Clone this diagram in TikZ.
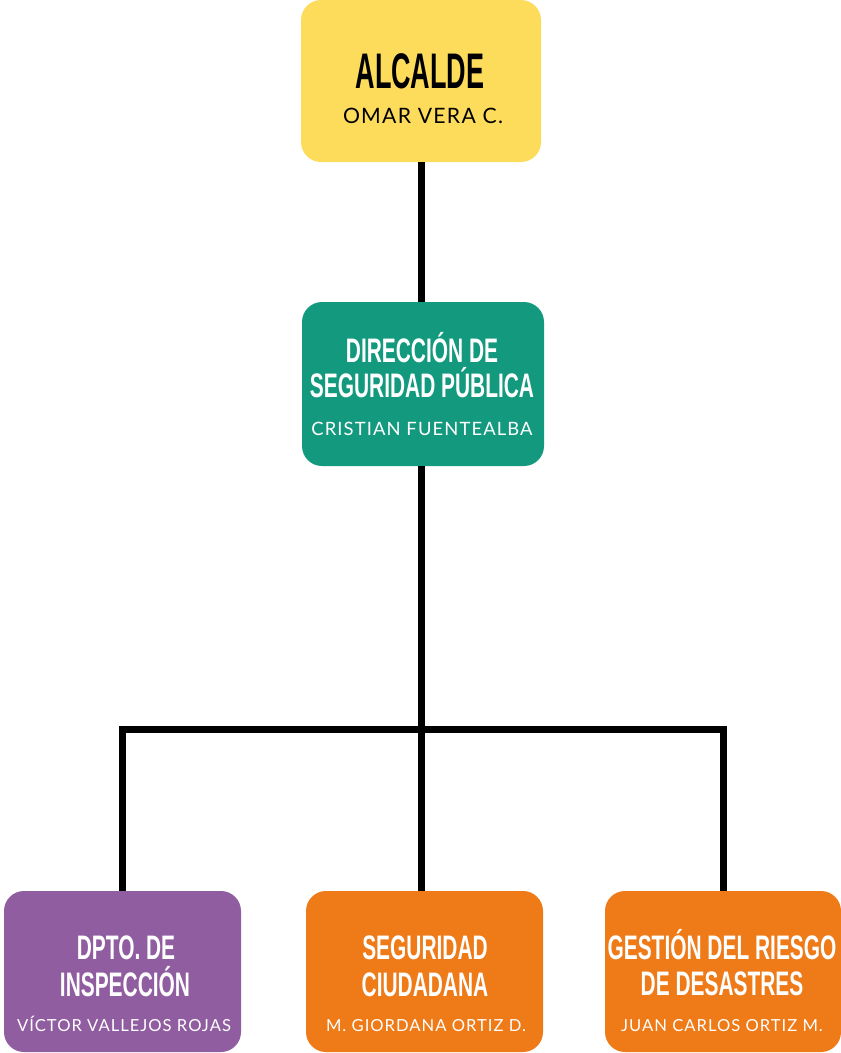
\documentclass[tikz,border=0pt]{standalone}
\usepackage{fontspec}
\newfontfamily\bigtitlefont[FakeStretch=0.54]{Liberation Sans}
\newfontfamily\titlefont[FakeStretch=0.615]{Liberation Sans}
\newfontfamily\subfont[LetterSpace=6]{Lato}
\definecolor{yel}{HTML}{FDDC5C}
\definecolor{grn}{HTML}{13997E}
\definecolor{pur}{HTML}{905EA0}
\definecolor{org}{HTML}{EE7A18}
\tikzset{
  box/.style={rounded corners=20pt, inner sep=0pt, draw=none},
  conn/.style={line width=7pt, black, line join=miter},
  bigt/.style={anchor=base, inner sep=0pt, font=\bigtitlefont\bfseries\fontsize{50}{50}\selectfont},
  tt/.style={anchor=base, inner sep=0pt, text=white, font=\titlefont\bfseries\fontsize{34}{34}\selectfont},
  subbig/.style={anchor=base, inner sep=0pt, font=\subfont\fontsize{21.2}{21.2}\selectfont},
  submid/.style={anchor=base, inner sep=0pt, text=white, font=\subfont\fontsize{18.4}{18.4}\selectfont},
  sub/.style={anchor=base, inner sep=0pt, text=white, font=\subfont\fontsize{16.6}{16.6}\selectfont},
}
\begin{document}
\begin{tikzpicture}[x=1pt,y=-1pt]
\useasboundingbox (0,0) rectangle (841,1053);
% boxes
\node[box, fill=yel, minimum width=240pt, minimum height=162pt] (alc) at (421,81) {};
\node[box, fill=grn, minimum width=242pt, minimum height=164pt] (dir) at (423,384) {};
\node[box, fill=pur, minimum width=237pt, minimum height=161pt] (dpto) at (122.5,971.5) {};
\node[box, fill=org, minimum width=237pt, minimum height=161pt] (seg) at (424.5,971.5) {};
\node[box, fill=org, minimum width=236pt, minimum height=161pt] (gest) at (723,971.5) {};
% connectors
\coordinate (jct) at (421,729);
\draw[conn] (alc.south -| jct) -- (dir.north -| jct);
\draw[conn] (dir.south -| jct) -- (seg.north -| jct);
\draw[conn] (dpto.north) |- (jct) -| (gest.north);
% texts
\node[bigt] (alct) at (420,88) {ALCALDE};
\node[subbig] (alcs) at (423,123) {OMAR VERA C.};
\node[tt] (dirt1) at (422,362) {DIRECCIÓN DE};
\node[tt] (dirt2) at (422,397) {SEGURIDAD PÚBLICA};
\node[sub, submid] (dirs) at (422,435) {CRISTIAN FUENTEALBA};
\node[tt] (dptot1) at (126,959) {DPTO. DE};
\node[tt] (dptot2) at (125,996) {INSPECCIÓN};
\node[sub] (dptos) at (124,1031) {VÍCTOR VALLEJOS ROJAS};
\node[tt] (segt1) at (425,959) {SEGURIDAD};
\node[tt] (segt2) at (425,996) {CIUDADANA};
\node[sub] (segs) at (426,1031) {M. GIORDANA ORTIZ D.};
\node[tt] (gestt1) at (722,959) {GESTIÓN DEL RIESGO};
\node[tt] (gestt2) at (722,995) {DE DESASTRES};
\node[sub] (gests) at (722,1031) {JUAN CARLOS ORTIZ M.};
\end{tikzpicture}
\end{document}
